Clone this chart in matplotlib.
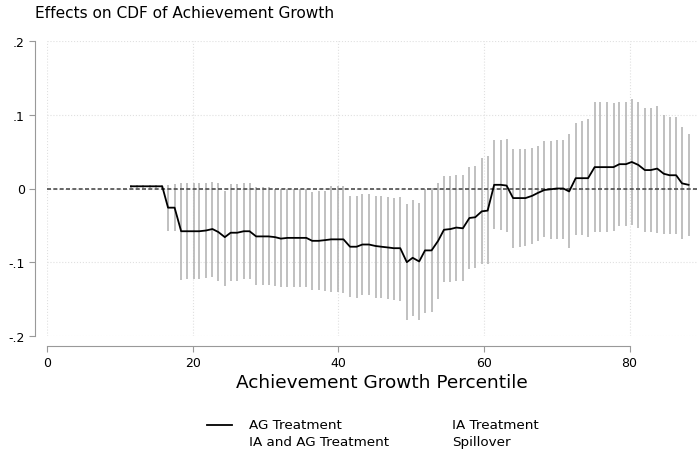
import matplotlib
matplotlib.use('Agg')
from matplotlib import pyplot as plt
from matplotlib.lines import Line2D

# achievement growth percentile (x of each estimate)
pct = [11.5, 12.3, 13.2, 14.1, 14.9, 15.8, 16.6, 17.5, 18.4, 19.2,
       20.1, 20.9, 21.8, 22.7, 23.5, 24.4, 25.2, 26.1, 27.0, 27.8,
       28.7, 29.6, 30.4, 31.3, 32.1, 33.0, 33.9, 34.7, 35.6, 36.4,
       37.3, 38.2, 39.0, 39.9, 40.7, 41.6, 42.5, 43.3, 44.2, 45.1,
       45.9, 46.8, 47.6, 48.5, 49.4, 50.2, 51.1, 51.9, 52.8, 53.7,
       54.5, 55.4, 56.2, 57.1, 58.0, 58.8, 59.7, 60.5, 61.4, 62.3,
       63.1, 64.0, 64.9, 65.7, 66.6, 67.4, 68.3, 69.2, 70.0, 70.9,
       71.7, 72.6, 73.5, 74.3, 75.2, 76.0, 76.9, 77.8, 78.6, 79.5,
       80.3, 81.2, 82.1, 82.9, 83.8, 84.7, 85.5, 86.4, 87.2, 88.1]

# AG treatment effect
est = [.003, .003, .003, .003, .003, .003, -.026, -.026, -.058, -.058,
       -.058, -.058, -.057, -.055, -.059, -.066, -.060, -.060, -.058, -.058,
       -.065, -.065, -.065, -.066, -.068, -.067, -.067, -.067, -.067, -.071,
       -.071, -.070, -.069, -.069, -.069, -.079, -.079, -.076, -.076, -.078,
       -.079, -.080, -.081, -.081, -.100, -.094, -.099, -.084, -.084, -.071,
       -.056, -.055, -.053, -.054, -.040, -.039, -.031, -.030, .005, .005,
       .004, -.013, -.013, -.013, -.010, -.006, -.002, -.001, .000, .000,
       -.004, .014, .014, .014, .029, .029, .029, .029, .033, .033,
       .036, .032, .025, .025, .027, .020, .018, .018, .007, .005]

# confidence interval bounds
ci_lo = [.001, .001, .001, .001, .001, .001, -.058, -.057, -.124, -.123,
         -.123, -.123, -.122, -.120, -.125, -.132, -.126, -.125, -.123, -.123,
         -.131, -.131, -.131, -.132, -.134, -.133, -.133, -.133, -.134, -.138,
         -.138, -.139, -.141, -.141, -.142, -.147, -.148, -.145, -.145, -.148,
         -.149, -.150, -.151, -.152, -.179, -.173, -.179, -.169, -.168, -.150,
         -.127, -.127, -.126, -.126, -.109, -.108, -.102, -.102, -.055, -.056,
         -.059, -.081, -.080, -.078, -.075, -.071, -.066, -.068, -.068, -.068,
         -.081, -.063, -.063, -.066, -.059, -.059, -.059, -.057, -.051, -.051,
         -.050, -.053, -.059, -.059, -.060, -.062, -.062, -.062, -.069, -.064]

ci_hi = [.005, .005, .005, .005, .005, .005, .005, .006, .007, .007,
         .008, .008, .008, .009, .007, -.003, .006, .006, .007, .007,
         .002, .002, .002, .000, -.001, .000, .000, .000, -.001, -.005,
         -.004, -.004, .003, .003, .003, -.010, -.010, -.007, -.007, -.010,
         -.010, -.012, -.013, -.012, -.021, -.015, -.019, .000, .001, .008,
         .017, .017, .018, .018, .029, .030, .042, .044, .066, .066,
         .067, .054, .054, .054, .055, .057, .064, .065, .066, .066,
         .074, .089, .091, .094, .117, .117, .117, .116, .118, .118,
         .121, .117, .109, .109, .112, .100, .097, .097, .084, .074]

yticks = [-.2, -.1, 0, .1, .2]
ytick_labels = ['-.2', '-.1', '0', '.1', '.2']
xticks = [0, 20, 40, 60, 80]
legend_labels = ['AG Treatment', 'IA and AG Treatment', 'IA Treatment', 'Spillover']

W, H = 698, 452
fig = plt.figure(figsize=(W / 100, H / 100), dpi=100)
ax = fig.add_axes([47.2 / W, 1 - 336.9 / H, 1 - 47.2 / W, (336.9 - 42.1) / H])
ax.set_xlim(0, 89.4)
ax.set_ylim(-0.2, 0.2)

ax.grid(True, color='#e0e0e0', ls=':', lw=0.8)
ax.set_axisbelow(True)

ax.vlines(pct, ci_lo, ci_hi, color='#b5b5b5', lw=1.2, zorder=2)
ax.axhline(0, color='#4d4d4d', lw=1.2, ls=(0, (2.4, 1.4)), zorder=3)
ax.plot(pct, est, color='black', lw=1.3, zorder=4)

for s in ['top', 'right']:
    ax.spines[s].set_visible(False)
ax.spines['left'].set_position(('outward', 8.6))
ax.spines['left'].set_bounds(-0.2, 0.2)
ax.spines['bottom'].set_position(('outward', 7))
ax.spines['bottom'].set_bounds(0, 80)
for s in ['left', 'bottom']:
    ax.spines[s].set_color('#999999')
    ax.spines[s].set_linewidth(0.8)

ax.set_yticks(yticks)
ax.set_yticklabels(ytick_labels)
ax.set_xticks(xticks)
ax.tick_params(axis='both', colors='#999999', labelcolor='black', labelsize=9,
               length=4.3, width=0.8, pad=3.2)

fig.text(35 / W, 1 - 13 / H, 'Effects on CDF of Achievement Growth',
         ha='left', va='center', fontsize=11.1)
fig.text(381.5 / W, 1 - 383 / H, 'Achievement Growth Percentile',
         ha='center', va='center', fontsize=13.3)

# legend (only the first series is drawn in this panel)
fig.add_artist(Line2D([207 / W, 232 / W], [1 - 426 / H, 1 - 426 / H],
                      color='black', lw=1.3))
lx = [249, 249, 452, 452]
ly = [426, 443, 426, 443]
for lab, x, y in zip(legend_labels, lx, ly):
    fig.text(x / W, 1 - y / H, lab, ha='left', va='center', fontsize=9.7)

fig.savefig('out.png', dpi=100)
